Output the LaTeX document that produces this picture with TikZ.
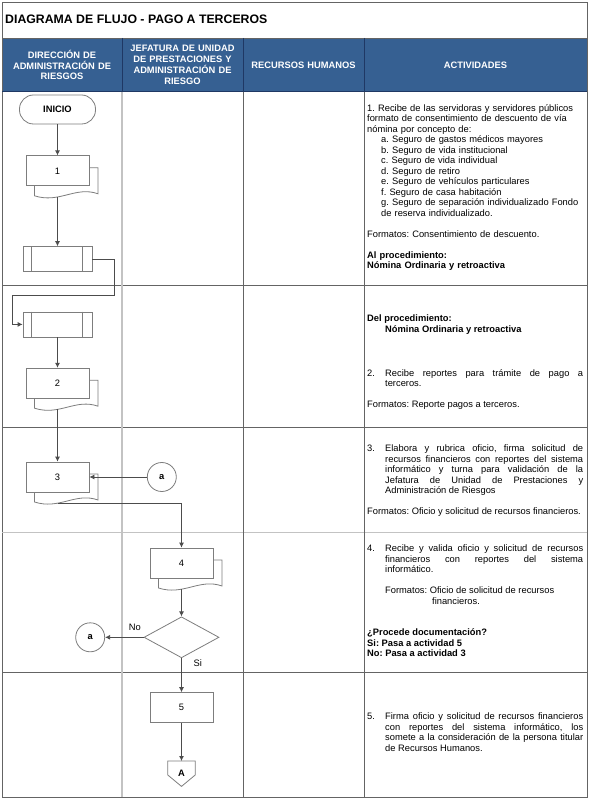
\documentclass[tikz,border=0pt]{standalone}
\usepackage{fontspec}
\setmainfont{Liberation Sans}
\usetikzlibrary{positioning, shapes.geometric, arrows.meta, calc, backgrounds}
\frenchspacing

\definecolor{headblue}{RGB}{54,96,146}
\definecolor{headline}{RGB}{31,56,100}
\definecolor{gridgray}{RGB}{100,100,100}
\definecolor{lightgrid}{RGB}{195,195,195}
\definecolor{shapegray}{RGB}{125,125,125}

\tikzset{
    shapeline/.style={draw=shapegray, line width=0.8pt},
    base/.style={shapeline, fill=white, align=center, inner sep=0pt},
    procbox/.style={base, rectangle, minimum width=63pt, minimum height=30pt},
    predef/.style={base, rectangle, minimum width=69pt, minimum height=25pt},
    startend/.style={base, rectangle, rounded corners=14pt, minimum width=76pt, minimum height=29pt, font=\fontsize{9.33}{10.5}\selectfont\bfseries},
    linkcirc/.style={base, circle, minimum size=29pt, font=\fontsize{9.33}{10.5}\selectfont\bfseries},
    decision/.style={base, diamond, aspect=1.83, minimum width=75pt, minimum height=41pt},
    offpage/.style={inner sep=0pt, minimum width=27pt, minimum height=25pt, font=\fontsize{9.33}{10.5}\selectfont\bfseries},
    headtext/.style={align=center, text width=110pt, inner sep=0pt, text=white, font=\fontsize{9.33}{10.8}\selectfont\bfseries},
    acttext/.style={anchor=base west, text width=216pt, inner sep=0pt, align=left},
    arrow/.style={-{Latex[length=5pt,width=5pt]}, draw=black!70, line width=0.8pt},
    tableline/.style={draw=gridgray, line width=0.8pt}
}

% back sheet of a document symbol, behind node #1
\newcommand{\docback}[1]{%
    \begin{scope}[on background layer]
        \draw[base] ($(#1.center)+(-23,3)$) -- ($(#1.center)+(40.5,3)$) -- ($(#1.center)+(40.5,-23)$)
            .. controls ($(#1.center)+(18,-15)$) and ($(#1.center)+(2,-33)$) .. ($(#1.center)+(-23,-25)$) -- cycle;
    \end{scope}
    \coordinate (#1-b) at ($(#1.center)+(0,-26)$);
}

\begin{document}
\begin{tikzpicture}[x=1pt, y=1pt, font=\fontsize{9.33}{10.5}\selectfont]
    \useasboundingbox (0,0) rectangle (589,-799);

    % Table
    \fill[headblue] (2,-38) rectangle (587,-92);
    \draw[tableline] (2,-2) rectangle (587,-797);
    \draw[tableline] (2,-38) -- (587,-38);
    \draw[headline, line width=0.8pt] (122,-38) -- (122,-92) (243,-38) -- (243,-92) (364,-38) -- (364,-92);
    \draw[headline, line width=1pt] (2,-92) -- (587,-92);
    \foreach \y in {285,427,672} \draw[tableline] (2,-\y) -- (587,-\y);
    \draw[tableline, draw=lightgrid] (2,-532) -- (587,-532);
    \draw[tableline, draw=lightgrid, line width=1.5pt] (122,-92.5) -- (122,-796.5);
    \draw[tableline] (243,-92) -- (243,-797) (364,-92) -- (364,-797);

    % Title and column heads
    \node[anchor=base west, inner sep=0pt, font=\fontsize{12.3}{14}\selectfont\bfseries] (title) at (5,-23.3) {DIAGRAMA DE FLUJO - PAGO A TERCEROS};
    \node[headtext] (hdir) at (62,-65) {DIRECCIÓN DE\\ ADMINISTRACIÓN DE\\ RIESGOS};
    \node[headtext] (hjef) at (182.5,-65) {JEFATURA DE UNIDAD\\ DE PRESTACIONES Y\\ ADMINISTRACIÓN DE\\ RIESGO};
    \node[headtext] (hrh) at (303.5,-65) {RECURSOS HUMANOS};
    \node[headtext, text width=200pt] (hact) at (475.5,-65) {ACTIVIDADES};

    % Flow
    \node[startend] (inicio) at (57.5,-109.5) {INICIO};
    \node[procbox, below=31pt of inicio] (d1) {1};
    \docback{d1}
    \node[predef, below=60pt of d1] (p1) {};
    \node[predef, below=39.5pt of p1] (p2) {};
    \foreach \p in {p1,p2} {
        \draw[shapeline] ([xshift=9pt]\p.north west) -- ([xshift=9pt]\p.south west)
            ([xshift=-10pt]\p.north east) -- ([xshift=-10pt]\p.south east);
    }
    \node[procbox, below=30.5pt of p2] (d2) {2};
    \docback{d2}
    \node[procbox, below=63pt of d2] (d3) {3};
    \docback{d3}
    \node[linkcirc, right=57.5pt of d3] (ca) {a};
    \node[procbox] (d4) at (181.5,-563) {4};
    \docback{d4}
    \node[decision, below=38pt of d4] (dec) {};
    \node[linkcirc, left=38.5pt of dec] (cb) {a};
    \node[procbox, below=34pt of dec] (b5) {5};
    \node[offpage, below=38pt of b5] (offA) {A};
    \draw[shapeline] (offA.north west) -- (offA.north east) -- ([yshift=-14pt]offA.north east)
        -- (offA.south) -- ([yshift=-14pt]offA.north west) -- cycle;

    % Connections
    \draw[arrow] (inicio) -- (d1);
    \draw[arrow] (d1-b) -- (p1);
    \draw[arrow] (p1.east) -- ++(22,0) -- ++(0,-36.5) -| ([xshift=-10pt]p2.west) -- (p2.west);
    \draw[arrow] (p2) -- (d2);
    \draw[arrow] (d2-b) -- (d3);
    \draw[arrow] (ca) -- (d3);
    \draw[arrow] (d3-b) -| (d4);
    \draw[arrow] (d4-b) -- (dec);
    \draw[arrow] (dec) -- node[above, pos=0.23, yshift=3pt] {No} (cb);
    \draw[arrow] (dec) -- node[right, pos=0.15, xshift=8.4pt] {Si} (b5);
    \draw[arrow] (b5) -- (offA);

    % Activities
    \node[acttext] (t1) at (367,-111.5) {1. Recibe de las servidoras y servidores públicos\\
        formato de consentimiento de descuento de vía\\
        nómina por concepto de:\\
        \hspace*{14pt}a. Seguro de gastos médicos mayores\\
        \hspace*{14pt}b. Seguro de vida institucional\\
        \hspace*{14pt}c. Seguro de vida individual\\
        \hspace*{14pt}d. Seguro de retiro\\
        \hspace*{14pt}e. Seguro de vehículos particulares\\
        \hspace*{14pt}f. Seguro de casa habitación\\
        \hspace*{14pt}g. Seguro de separación individualizado Fondo\\
        \hspace*{14pt}de reserva individualizado.\\[10.5pt]
        Formatos: Consentimiento de descuento.\\[10.5pt]
        \textbf{Al procedimiento:}\\
        \textbf{Nómina Ordinaria y retroactiva}};
    \node[acttext, align=justify] (t2) at (367,-321.6) {\textbf{Del procedimiento:}\par
        \hspace*{18pt}\textbf{Nómina Ordinaria y retroactiva}\par\vspace{33.5pt}
        \hangindent=18pt\hangafter=1\makebox[18pt][l]{2.}Recibe reportes para trámite de pago a\linebreak terceros.\par\vspace{10pt}
        Formatos: Reporte pagos a terceros.};
    \node[acttext, align=justify] (t3) at (367,-451.5) {\hangindent=18pt\hangafter=1\makebox[18pt][l]{3.}Elabora y rubrica oficio, firma solicitud de\linebreak
        recursos financieros con reportes del sistema\linebreak
        informático y turna para validación de la\linebreak
        Jefatura de Unidad de Prestaciones y\linebreak
        Administración de Riesgos\par\vspace{10.5pt}
        Formatos: Oficio y solicitud de recursos financieros.};
    \node[acttext, align=justify] (t4) at (367,-551.5) {\hangindent=18pt\hangafter=1\makebox[18pt][l]{4.}Recibe y valida oficio y solicitud de recursos\linebreak
        financieros con reportes del sistema\linebreak
        informático.\par\vspace{10.5pt}
        \hspace*{18pt}Formatos: Oficio de solicitud de recursos\par
        \hspace*{65pt}financieros.\par\vspace{21pt}
        \textbf{¿Procede documentación?}\par
        \textbf{Si: Pasa a actividad 5}\par
        \textbf{No: Pasa a actividad 3}};
    \node[acttext, align=justify] (t5) at (367,-719.9) {\hangindent=18pt\hangafter=1\makebox[18pt][l]{5.}Firma oficio y solicitud de recursos financieros\linebreak
        con reportes del sistema informático, los\linebreak
        somete a la consideración de la persona titular\linebreak
        de Recursos Humanos.\par};
\end{tikzpicture}
\end{document}
